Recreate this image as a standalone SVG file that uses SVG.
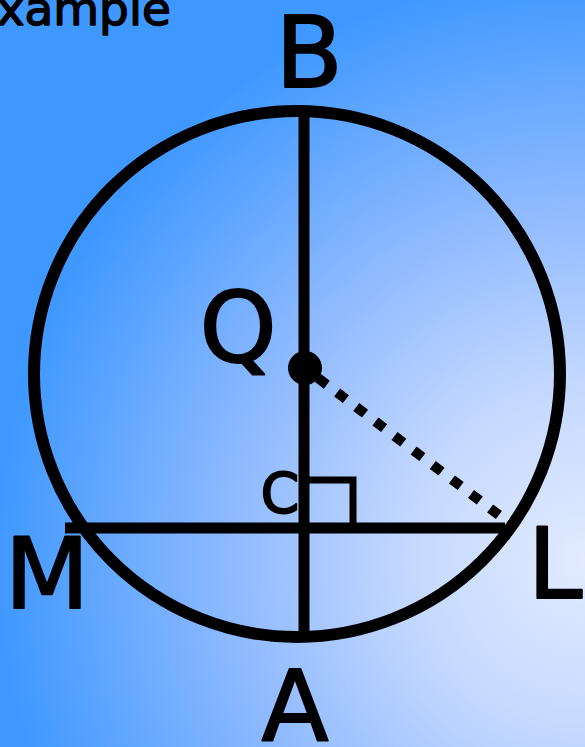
<svg xmlns="http://www.w3.org/2000/svg" width="585" height="747" viewBox="0 0 585 747">
  <defs>
    <radialGradient id="bg" gradientUnits="userSpaceOnUse" cx="585" cy="560" r="590">
      <stop offset="0" stop-color="#e2ebff"/>
      <stop offset="0.3" stop-color="#c4d8ff"/>
      <stop offset="0.6" stop-color="#8fbaff"/>
      <stop offset="1" stop-color="#3f98ff"/>
    </radialGradient>
    <style>
      .lbl { font-family: "Comic Sans MS", "DejaVu Sans", sans-serif; fill: #000; stroke: #000; stroke-width: 2; stroke-linejoin: round; text-anchor: middle; }
      .big { font-size: 98px; }
      .ln { stroke: #000; stroke-width: 11; fill: none; }
    </style>
  </defs>
  <rect width="585" height="747" fill="url(#bg)"/>
  <text x="-33" y="25" class="lbl" style="font-size:47px;text-anchor:start;stroke-width:1.5">Example</text>

  <g id="circle">
    <circle cx="297" cy="374" r="263" stroke="#000" stroke-width="12" fill="none"/>
  </g>
  <g id="connectors">
    <line x1="304" y1="112" x2="304" y2="637" class="ln"/>
    <line x1="65" y1="528" x2="505" y2="528" class="ln"/>
    <polyline points="309,528 353,528 353,480 309,480" stroke="#000" stroke-width="7" fill="none"/>
    <line x1="318" y1="378" x2="512" y2="525" stroke="#000" stroke-width="10" stroke-dasharray="11 13"/>
  </g>
  <g id="Q">
    <circle cx="305" cy="368" r="17" fill="#000"/>
    <text x="238" y="362" class="lbl big">Q</text>
  </g>
  <g id="B"><text x="309" y="87" class="lbl big">B</text></g>
  <g id="C"><text x="280" y="512" class="lbl" style="font-size:55px;stroke-width:2">C</text></g>
  <g id="M"><text x="47" y="608" class="lbl big">M</text></g>
  <g id="L"><text x="555" y="598" class="lbl big">L</text></g>
  <g id="A"><text x="295" y="740" class="lbl big">A</text></g>
</svg>
